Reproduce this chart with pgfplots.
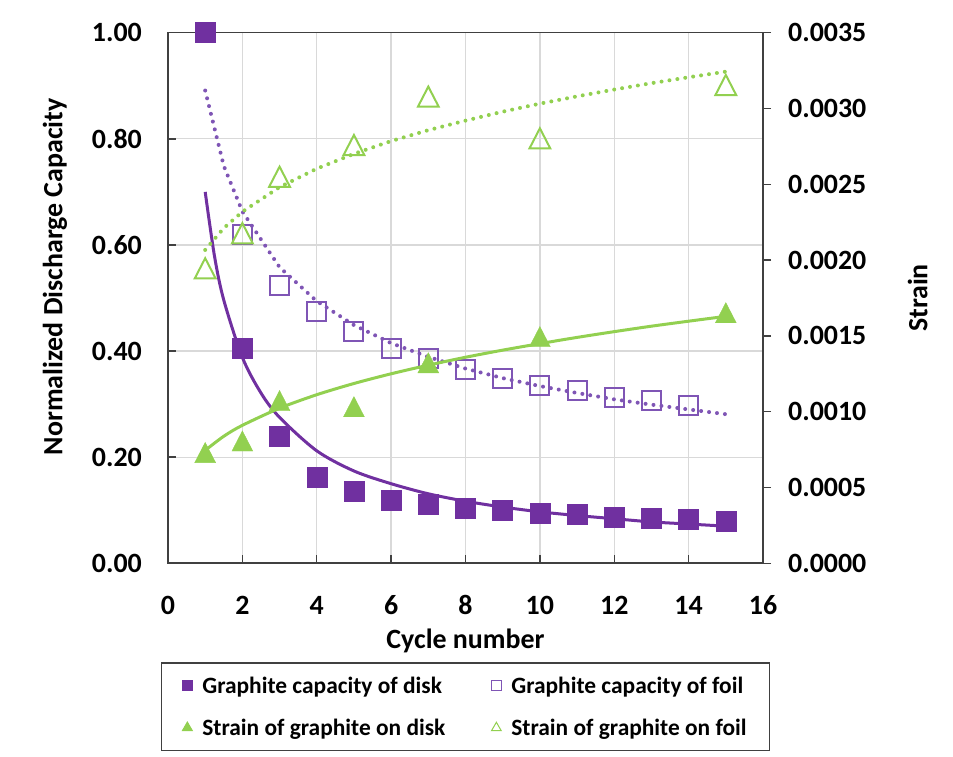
\documentclass[border=0pt]{standalone}
\usepackage{fontspec}
\setmainfont{Carlito}
\usepackage{pgfplots}
\usepackage{pgfplotstable}
\pgfplotsset{compat=1.18}

\definecolor{cpurple}{HTML}{7030A0}
\definecolor{cpurplel}{HTML}{7F55B5}
\definecolor{cgreen}{HTML}{92D050}
\definecolor{cframe}{HTML}{404040}
\definecolor{cgrid}{HTML}{D9D9D9}

% capacity (left axis)
\pgfplotstableread{
x y
1 1.000
2 0.405
3 0.239
4 0.163
5 0.135
6 0.119
7 0.112
8 0.104
9 0.100
10 0.095
11 0.093
12 0.087
13 0.085
14 0.084
15 0.080
}\diskcap
\pgfplotstableread{
x y
1 1.000
2 0.620
3 0.524
4 0.474
5 0.436
6 0.405
7 0.386
8 0.366
9 0.349
10 0.336
11 0.325
12 0.313
13 0.306
14 0.298
}\foilcap
% trend lines read off the chart
\pgfplotstableread{
x y
1 0.700
1.25 0.579
1.5 0.496
2 0.388
2.5 0.321
3 0.275
4 0.212
5 0.174
6 0.150
7 0.131
8 0.117
9 0.106
10 0.097
11 0.090
12 0.084
13 0.078
14 0.074
15 0.070
}\diskcapfit
\pgfplotstableread{
x y
1 0.891
1.5 0.749
2 0.663
3 0.558
4 0.494
5 0.449
6 0.415
7 0.389
8 0.367
9 0.349
10 0.334
11 0.321
12 0.309
13 0.299
14 0.290
15 0.281
}\foilcapfit
% strain (right axis)
\pgfplotstableread{
x y
1 0.000731
2 0.000807
3 0.001073
5 0.001033
7 0.001323
10 0.001495
15 0.001653
}\diskstrain
\pgfplotstableread{
x y
1 0.001946
2 0.002177
3 0.002550
5 0.002759
7 0.003078
10 0.002803
15 0.003155
}\foilstrain
\pgfplotstableread{
x y
1 0.000745
1.5 0.000838
2 0.000910
3 0.001023
4 0.001112
5 0.001186
6 0.001250
7 0.001307
8 0.001359
9 0.001406
10 0.001449
11 0.001490
12 0.001528
13 0.001564
14 0.001597
15 0.001629
}\diskstrainfit
\pgfplotstableread{
x y
1 0.002067
1.5 0.002211
2 0.002319
3 0.002481
4 0.002603
5 0.002701
6 0.002785
7 0.002857
8 0.002920
9 0.002979
10 0.003032
11 0.003080
12 0.003125
13 0.003167
14 0.003206
15 0.003243
}\foilstrainfit

\begin{document}
\begin{tikzpicture}
\useasboundingbox (0,0) rectangle (953bp,757bp);
\pgfplotsset{
  base/.style={
    at={(168bp,193.7bp)}, anchor=south west,
    scale only axis, width=595bp, height=530.6bp,
    xmin=0, xmax=16, xtick distance=2,
    clip=false,
    axis line style={cframe, line width=1.6bp},
    tick style={cframe, line width=1.4bp},
    major tick length=8bp,
    ticklabel style={font=\fontsize{28}{30}\selectfont\bfseries, text=black},
    label style={font=\fontsize{28}{30}\selectfont\bfseries},
  },
  trend/.style={no marks, line width=3bp},
  dots/.style={no marks, line width=4bp, line cap=round, dash pattern=on 0bp off 8bp},
}
\begin{axis}[base,
  ymin=0, ymax=1, ytick distance=0.2,
  ytick pos=left, xtick pos=bottom, tick align=inside,
  grid=major, major grid style={cgrid, line width=1.3bp},
  yticklabel style={/pgf/number format/fixed, /pgf/number format/fixed zerofill,
    /pgf/number format/precision=2, /pgf/number format/assume math mode=true,
    anchor=east, inner sep=0pt, xshift=-26bp},
  xticklabel style={/pgf/number format/assume math mode=true,
    anchor=center, inner sep=0pt, yshift=-42bp},
  xlabel={Cycle number},
  ylabel={Normalized Discharge Capacity},
  xlabel style={at={(axis description cs:0.5,-0.146)}, anchor=center},
  ylabel style={at={(axis description cs:-0.19,0.54)}, anchor=center},
  legend columns=2,
  legend cell align=left,
  legend style={at={(0.5,-0.1866)}, anchor=north,
    draw=cframe, line width=1.2bp,
    font=\fontsize{23.5}{25}\selectfont\bfseries,
    inner xsep=21bp, inner ysep=12bp, row sep=20bp,
    /tikz/every odd column/.append style={column sep=8bp},
    /tikz/every even column/.append style={column sep=44bp}},
]
\addlegendimage{only marks, mark=square*, mark size=5bp, cpurple}
\addlegendentry{Graphite capacity of disk}
\addlegendimage{only marks, mark=square, mark size=5bp, cpurplel, mark options={line width=1bp}}
\addlegendentry{Graphite capacity of foil}
\addlegendimage{only marks, mark=triangle*, mark size=5.5bp, cgreen}
\addlegendentry{Strain of graphite on disk}
\addlegendimage{only marks, mark=triangle, mark size=5.5bp, cgreen, mark options={line width=1bp}}
\addlegendentry{Strain of graphite on foil}

\addplot[forget plot, only marks, mark=square, mark size=9.5bp, cpurplel, mark options={line width=2bp}] table {\foilcap};
\addplot[forget plot, dots, cpurplel] table {\foilcapfit};
\addplot[forget plot, trend, cpurple, smooth] table {\diskcapfit};
\addplot[forget plot, only marks, mark=square*, mark size=10bp, cpurple] table {\diskcap};
\end{axis}

\begin{axis}[base,
  ymin=0, ymax=0.0035, ytick distance=0.0005,
  axis y line*=right, axis x line=none, tick align=outside,
  scaled y ticks=false,
  yticklabel style={/pgf/number format/fixed, /pgf/number format/fixed zerofill,
    /pgf/number format/precision=4, /pgf/number format/assume math mode=true,
    anchor=west, inner sep=0pt, xshift=17bp},
  ylabel={Strain},
  ylabel style={at={(axis description cs:1.26,0.5)}, anchor=center},
]
\addplot[dots, cgreen] table {\foilstrainfit};
\addplot[only marks, mark=triangle, mark size=12bp, cgreen, mark options={line width=2bp, yscale=1.12, yshift=-3bp}] table {\foilstrain};
\addplot[trend, cgreen, smooth] table {\diskstrainfit};
\addplot[only marks, mark=triangle*, mark size=12bp, cgreen, mark options={yscale=1.12, yshift=-3bp}] table {\diskstrain};
\end{axis}
\end{tikzpicture}
\end{document}
